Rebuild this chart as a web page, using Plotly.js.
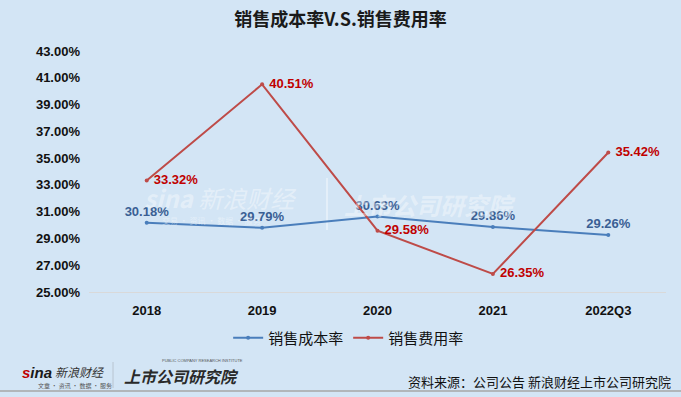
<!DOCTYPE html>
<html><head><meta charset="utf-8">
<script src="https://cdn.plot.ly/plotly-3.0.1.min.js"></script>
<style>html,body{margin:0;padding:0;background:#d3e5f5;}#c{width:681px;height:397px;}</style>
</head><body><div id="c"></div>
<script>
const categories = ['2018','2019','2020','2021','2022Q3'];
const costRate = [30.18, 29.79, 30.63, 29.86, 29.26];
const expenseRate = [33.32, 40.51, 29.58, 26.35, 35.42];
const seriesNames = ['销售成本率','销售费用率'];
const yTicks = [25,27,29,31,33,35,37,39,41,43];

const L=89, R=666, T=51, B=292;
const px = x => (x-L)/(R-L);
const py = y => (B-y)/(B-T);
const cjk = '"Noto Sans CJK SC", "Microsoft YaHei", sans-serif';
const lat = '"Liberation Sans", Arial, sans-serif';

const traces = [
  {x: categories, y: costRate, name: seriesNames[0], type:'scatter', mode:'lines+markers+text',
   line:{color:'#4a7ebb', width:2}, marker:{color:'#4a7ebb', size:4},
   text: costRate.map(v=>v.toFixed(2)+'%'), textposition:'top center',
   textfont:{family:lat, size:13, color:'#3a5f94', weight:'bold'}, cliponaxis:false, hoverinfo:'none'},
  {x: categories, y: expenseRate, name: seriesNames[1], type:'scatter', mode:'lines+markers+text',
   line:{color:'#be4b48', width:2}, marker:{color:'#be4b48', size:4},
   text: expenseRate.map(v=>' '+v.toFixed(2)+'%'), textposition:'middle right',
   textfont:{family:lat, size:13, color:'#c00000', weight:'bold'}, cliponaxis:false, hoverinfo:'none'}
];

const wm = 'rgba(255,255,255,0.4)';
const layout = {
  width:681, height:397,
  paper_bgcolor:'#d3e5f5', plot_bgcolor:'#d3e5f5',
  margin:{l:L, r:681-R, t:T, b:397-B, pad:0},
  title:{text:'<b>销售成本率V.S.销售费用率</b>', font:{family:cjk, size:18, color:'#1a1a1a'}, x:0.5, xanchor:'center', y:0.95, yanchor:'middle'},
  showlegend:true,
  legend:{orientation:'h', x:0.45, xanchor:'center', y:py(338), yanchor:'middle', bgcolor:'rgba(0,0,0,0)',
    font:{family:cjk, size:15, color:'#111'}, itemwidth:30, tracegroupgap:0},
  xaxis:{type:'category', range:[-0.5,4.5], showgrid:false, zeroline:false, showline:true, linecolor:'#d9d9d9', linewidth:1,
    ticks:'', tickfont:{family:lat, size:13, color:'#111', weight:'bold'}, ticklabelstandoff:6},
  yaxis:{range:[25,43], tickvals:yTicks, ticktext:yTicks.map(v=>v.toFixed(2)+'%'), showgrid:false, zeroline:false, showline:false,
    ticks:'', tickfont:{family:lat, size:13, color:'#111', weight:'bold'}, ticklabelstandoff:8},
  shapes:[
    {type:'line', xref:'paper', yref:'paper', x0:px(0), x1:px(681), y0:py(391), y1:py(391), line:{color:'#a6a6a6', width:1.5}},
    {type:'line', xref:'paper', yref:'paper', x0:px(113), x1:px(113), y0:py(362), y1:py(388), line:{color:'#b8c4d0', width:1}},
    {type:'line', xref:'paper', yref:'paper', x0:px(327), x1:px(327), y0:py(178), y1:py(230), line:{color:wm, width:2}, layer:'below'}
  ],
  annotations:[
    {xref:'paper', yref:'paper', x:px(20), y:py(372), xanchor:'left', yanchor:'middle', showarrow:false,
     text:'<b><i><span style="color:#c00000">s</span>ina</i></b>', font:{family:lat, size:15, color:'#1a1a1a'}},
    {xref:'paper', yref:'paper', x:px(53), y:py(371), xanchor:'left', yanchor:'middle', showarrow:false,
     text:'<i>新浪财经</i>', font:{family:cjk, size:12, color:'#333'}},
    {xref:'paper', yref:'paper', x:px(36), y:py(385), xanchor:'left', yanchor:'middle', showarrow:false,
     text:'文章 · 资讯 · 数据 · 服务', font:{family:cjk, size:6, color:'#555'}},
    {xref:'paper', yref:'paper', x:px(122), y:py(376), xanchor:'left', yanchor:'middle', showarrow:false,
     text:'<b><i>上市公司研究院</i></b>', font:{family:cjk, size:16, color:'#2a2a2a'}},
    {xref:'paper', yref:'paper', x:px(160), y:py(361), xanchor:'left', yanchor:'middle', showarrow:false,
     text:'PUBLIC COMPANY RESEARCH INSTITUTE', font:{family:lat, size:4, color:'#555'}},
    {xref:'paper', yref:'paper', x:px(673), y:py(381), xanchor:'right', yanchor:'middle', showarrow:false,
     text:'资料来源：公司公告 新浪财经上市公司研究院', font:{family:cjk, size:13, color:'#111'}},
    {xref:'paper', yref:'paper', x:px(142), y:py(197), xanchor:'left', yanchor:'middle', showarrow:false,
     text:'<b><i>sina</i></b> <i>新浪财经</i>', font:{family:cjk, size:24, color:wm}},
    {xref:'paper', yref:'paper', x:px(160), y:py(221), xanchor:'left', yanchor:'middle', showarrow:false,
     text:'交易 · 资讯 · 数据 · 服务', font:{family:cjk, size:8, color:wm}},
    {xref:'paper', yref:'paper', x:px(342), y:py(204), xanchor:'left', yanchor:'middle', showarrow:false,
     text:'<b><i>上市公司研究院</i></b>', font:{family:cjk, size:24, color:wm}}
  ]
};
Plotly.newPlot('c', traces, layout, {displayModeBar:false, staticPlot:true});
</script></body></html>
